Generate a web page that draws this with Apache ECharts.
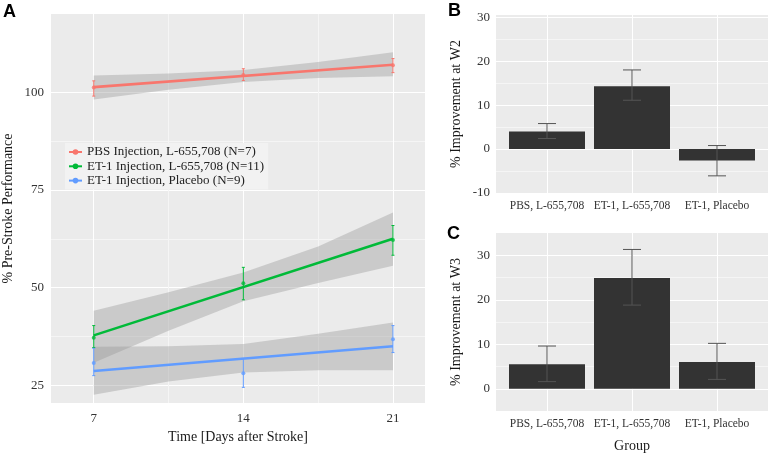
<!DOCTYPE html>
<html>
<head>
<meta charset="utf-8">
<title>Stroke recovery</title>
<script src="https://cdn.jsdelivr.net/npm/echarts@6/dist/echarts.min.js"></script>
<style>
body{margin:0;background:#fff;}
#chart{width:768px;height:454px;}
</style>
</head>
<body>
<div id="chart"></div>
<script>

// panel A: days after stroke
const days = [7, 14, 21]
const bandDays = [7, 10.5, 14, 17.5, 21]
const seriesNames = ["PBS Injection, L-655,708 (N=7)", "ET-1 Injection, L-655,708 (N=11)", "ET-1 Injection, Placebo (N=9)"]
const seriesColors = ["#F8766D", "#00BA38", "#619CFF"]

const pbsMean = [101.2, 104.4, 106.9]
const pbsLow = [99.0, 103.0, 105.0]
const pbsHigh = [102.9, 106.0, 108.6]
const pbsFit = [101.3, 107.0]
const pbsBandLow = [98.1, 100.6, 102.6, 103.6, 104.1]
const pbsBandHigh = [104.3, 104.8, 105.7, 107.7, 110.2]

const etMean = [37.2, 51.1, 62.2]
const etLow = [34.7, 46.9, 58.3]
const etHigh = [40.3, 55.2, 65.9]
const etFit = [37.8, 62.5]
const etBandLow = [30.8, 39.0, 46.5, 51.2, 55.6]
const etBandHigh = [44.1, 48.8, 53.9, 60.5, 69.2]

const plaMean = [30.7, 28.1, 36.8]
const plaLow = [27.5, 24.5, 33.4]
const plaHigh = [34.5, 31.9, 40.3]
const plaFit = [28.7, 35.0]
const plaBandLow = [22.6, 26.0, 28.3, 28.9, 28.9]
const plaBandHigh = [34.9, 35.0, 35.6, 38.2, 41.1]

// panels B and C
const groups = ["PBS, L-655,708", "ET-1, L-655,708", "ET-1, Placebo"]
const groupPos = [1, 2, 3]
const w2 = [4.0, 14.3, -2.6]
const w2Low = [2.4, 11.1, -6.1]
const w2High = [5.8, 18.0, 0.8]
const w3 = [5.5, 24.9, 6.0]
const w3Low = [1.6, 18.8, 2.1]
const w3High = [9.6, 31.3, 10.2]

const xTicksA = [7, 14, 21]
const yTicksA = [25, 50, 75, 100]
const yTicksB = [-10, 0, 10, 20, 30]
const yTicksC = [0, 10, 20, 30]

const serif = "Liberation Serif"
const gridBg = "#ebebeb"
const major = "#ffffff"
const minor = "#f5f5f5"

function halfSteps(ticks){
  const out=[]
  for(let i=0;i<ticks.length;i++){
    out.push(ticks[i])
    if(i<ticks.length-1) out.push((ticks[i]+ticks[i+1])/2)
  }
  return out
}

function band(lo,hi){
  return {
    type:"custom", xAxisIndex:0, yAxisIndex:0, silent:true, z:1,
    data:[[bandDays[0],lo[0]]],
    renderItem:function(params,api){
      const pts=[]
      for(let i=0;i<bandDays.length;i++) pts.push(api.coord([bandDays[i],hi[i]]))
      for(let i=bandDays.length-1;i>=0;i--) pts.push(api.coord([bandDays[i],lo[i]]))
      return {type:"polygon",shape:{points:pts},style:{fill:"rgba(153,153,153,0.4)"}}
    }
  }
}

function errorBars(xs,lo,hi,color,cap,xi,width){
  return {
    type:"custom", xAxisIndex:xi, yAxisIndex:xi, silent:true, z:5,
    encode:{x:0,y:[1,2]},
    data:xs.map((x,i)=>[x,lo[i],hi[i]]),
    renderItem:function(params,api){
      const a=api.coord([api.value(0),api.value(1)])
      const b=api.coord([api.value(0),api.value(2)])
      const st={stroke:color,lineWidth:width}
      return {type:"group",children:[
        {type:"line",shape:{x1:a[0],y1:a[1],x2:b[0],y2:b[1]},style:st},
        {type:"line",shape:{x1:a[0]-cap,y1:a[1],x2:a[0]+cap,y2:a[1]},style:st},
        {type:"line",shape:{x1:b[0]-cap,y1:b[1],x2:b[0]+cap,y2:b[1]},style:st}
      ]}
    }
  }
}

function fitLine(name,fit,color){
  return {
    name:name, type:"line", xAxisIndex:0, yAxisIndex:0, z:4,
    data:[[days[0],fit[0]],[days[2],fit[1]]],
    symbol:"circle", symbolSize:5, showSymbol:false, silent:true,
    itemStyle:{color:color},
    lineStyle:{color:color,width:2.6}
  }
}

function points(mean,color){
  return {
    type:"scatter", xAxisIndex:0, yAxisIndex:0, z:6, silent:true,
    data:days.map((d,i)=>[d,mean[i]]),
    symbolSize:4, itemStyle:{color:color}
  }
}

const labelStyle = {fontFamily:serif,fontSize:13,color:"#333"}
const nameStyle = {fontFamily:serif,fontSize:14,color:"#1a1a1a"}
const letterStyle = {fontFamily:"Liberation Sans",fontWeight:"bold",fontSize:18,color:"#000"}

function valueAxis(extra){
  return Object.assign({
    type:"value",
    axisLine:{show:false},
    axisTick:{show:false},
    splitLine:{show:true,lineStyle:{color:[major,minor],width:1}}
  },extra)
}

const chart = echarts.init(document.getElementById("chart"))

chart.setOption({
  animation:false,
  backgroundColor:"#ffffff",
  title:[
    {text:"A",left:3,top:3,padding:0,textStyle:letterStyle},
    {text:"B",left:448,top:2,padding:0,textStyle:letterStyle},
    {text:"C",left:447,top:225,padding:0,textStyle:letterStyle}
  ],
  legend:{
    data:seriesNames,
    orient:"vertical",
    left:65, top:143,
    itemWidth:13, itemHeight:7, itemGap:0.3,
    padding:[2,4,2,3],
    backgroundColor:"#f2f2f2",
    textStyle:{fontFamily:serif,fontSize:13,color:"#222",lineHeight:14}
  },
  grid:[
    {left:51,top:14,width:374,height:389,show:true,backgroundColor:gridBg,borderWidth:0},
    {left:496,top:15,width:272,height:178,show:true,backgroundColor:gridBg,borderWidth:0},
    {left:496,top:233,width:272,height:179,show:true,backgroundColor:gridBg,borderWidth:0}
  ],
  xAxis:[
    valueAxis({gridIndex:0,min:5,max:22.5,
      axisTick:{show:false,customValues:halfSteps(xTicksA)},
      axisLabel:{customValues:xTicksA,margin:9,...labelStyle},
      name:"Time [Days after Stroke]",nameLocation:"middle",nameGap:27,nameTextStyle:nameStyle}),
    valueAxis({gridIndex:1,min:0.4,max:3.6,
      axisTick:{show:false,customValues:groupPos},
      axisLabel:{customValues:groupPos,margin:7,formatter:v=>groups[Math.round(v)-1],...labelStyle,fontSize:11.5},
      splitLine:{show:true,lineStyle:{color:major,width:1}}}),
    valueAxis({gridIndex:2,min:0.4,max:3.6,
      axisTick:{show:false,customValues:groupPos},
      axisLabel:{customValues:groupPos,margin:7,formatter:v=>groups[Math.round(v)-1],...labelStyle,fontSize:11.5},
      splitLine:{show:true,lineStyle:{color:major,width:1}},
      name:"Group",nameLocation:"middle",nameGap:28,nameTextStyle:nameStyle})
  ],
  yAxis:[
    valueAxis({gridIndex:0,min:20.5,max:120,
      axisTick:{show:false,customValues:halfSteps(yTicksA)},
      axisLabel:{customValues:yTicksA,margin:7,...labelStyle},
      name:"% Pre-Stroke Performance",nameLocation:"middle",nameGap:36,nameTextStyle:nameStyle}),
    valueAxis({gridIndex:1,min:-10,max:30.5,
      axisTick:{show:false,customValues:halfSteps(yTicksB)},
      axisLabel:{customValues:yTicksB,margin:6,...labelStyle},
      name:"% Improvement at W2",nameLocation:"middle",nameGap:33,nameTextStyle:nameStyle}),
    valueAxis({gridIndex:2,min:-5,max:35,
      axisTick:{show:false,customValues:halfSteps(yTicksC)},
      axisLabel:{customValues:yTicksC,margin:6,...labelStyle},
      name:"% Improvement at W3",nameLocation:"middle",nameGap:33,nameTextStyle:nameStyle})
  ],
  series:[
    band(pbsBandLow,pbsBandHigh),
    band(etBandLow,etBandHigh),
    band(plaBandLow,plaBandHigh),
    fitLine(seriesNames[0],pbsFit,seriesColors[0]),
    fitLine(seriesNames[1],etFit,seriesColors[1]),
    fitLine(seriesNames[2],plaFit,seriesColors[2]),
    errorBars(days,pbsLow,pbsHigh,seriesColors[0],1.5,0,1),
    errorBars(days,etLow,etHigh,seriesColors[1],1.5,0,1),
    errorBars(days,plaLow,plaHigh,seriesColors[2],1.5,0,1),
    points(pbsMean,seriesColors[0]),
    points(etMean,seriesColors[1]),
    points(plaMean,seriesColors[2]),
    {type:"bar",xAxisIndex:1,yAxisIndex:1,barWidth:76,silent:true,
      data:groupPos.map((g,i)=>[g,w2[i]]),itemStyle:{color:"#333333"}},
    errorBars(groupPos,w2Low,w2High,"#555555",9,1,1),
    {type:"bar",xAxisIndex:2,yAxisIndex:2,barWidth:76,silent:true,
      data:groupPos.map((g,i)=>[g,w3[i]]),itemStyle:{color:"#333333"}},
    errorBars(groupPos,w3Low,w3High,"#555555",9,2,1)
  ]
})

</script>
</body>
</html>
